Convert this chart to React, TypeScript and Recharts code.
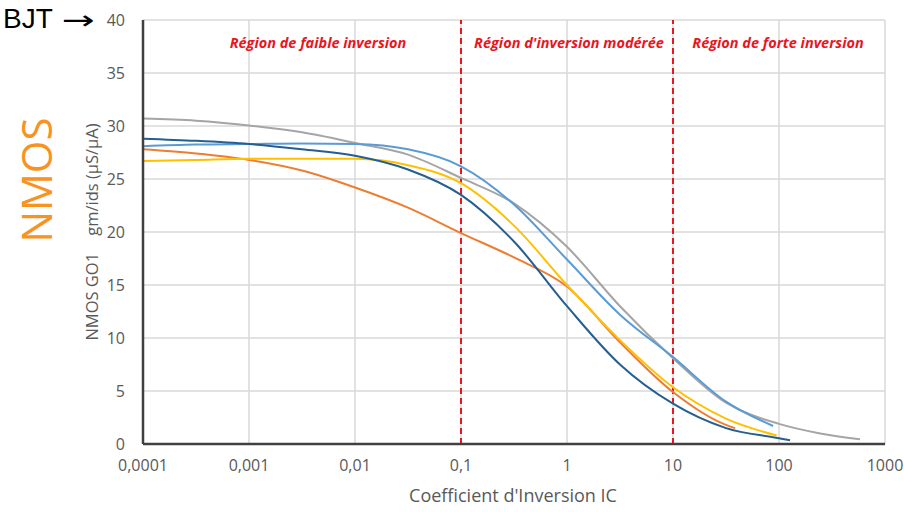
import React from 'react';
import { LineChart, Line, XAxis, YAxis, CartesianGrid, ReferenceLine, ReferenceArea } from 'recharts';

// Tick labels
const xTicks = [0.0001, 0.001, 0.01, 0.1, 1, 10, 100, 1000];
const yTicks = [0, 5, 10, 15, 20, 25, 30, 35, 40];

// Series (Coefficient d'inversion IC -> gm/ids)
const grayX = [0.0001, 0.000316, 0.001, 0.00316, 0.01, 0.0316, 0.1, 0.316, 1, 3.16, 10, 31.6, 100, 245, 580];
const grayY = [30.7, 30.5, 30.05, 29.4, 28.4, 27.3, 25.1, 22.7, 18.6, 13.0, 8.1, 3.9, 1.9, 1.0, 0.45];

const lightBlueX = [0.0001, 0.000316, 0.001, 0.00316, 0.01, 0.0316, 0.1, 0.316, 1, 3.16, 10, 31.6, 88];
const lightBlueY = [28.1, 28.25, 28.3, 28.35, 28.3, 27.8, 26.2, 22.6, 17.4, 12.2, 8.2, 4.0, 1.7];

const darkBlueX = [0.0001, 0.000316, 0.001, 0.00316, 0.01, 0.0316, 0.1, 0.316, 1, 3.16, 10, 31.6, 100, 127];
const darkBlueY = [28.8, 28.6, 28.3, 27.8, 27.2, 25.9, 23.5, 19.1, 13.0, 7.5, 3.8, 1.5, 0.55, 0.35];

const yellowX = [0.0001, 0.000316, 0.001, 0.00316, 0.01, 0.0316, 0.1, 0.316, 1, 3.16, 10, 31.6, 95];
const yellowY = [26.7, 26.8, 26.9, 26.9, 26.9, 26.3, 24.6, 20.6, 15.0, 9.8, 5.35, 2.4, 0.8];

const orangeX = [0.0001, 0.000316, 0.001, 0.00316, 0.01, 0.0316, 0.1, 0.316, 1, 3.16, 10, 31.6, 38.6];
const orangeY = [27.8, 27.4, 26.8, 25.8, 24.2, 22.3, 19.9, 17.6, 14.85, 9.6, 4.9, 1.8, 1.5];

const regionBounds = [0.0001, 0.1, 10, 1000];
const regionLabels = ['Région de faible inversion', "Région d'inversion modérée", 'Région de forte inversion'];
const regionShift = [16, 2, -1];

const build = (xs: number[], ys: number[]) => xs.map((x, i) => ({ x, y: ys[i] }));

const series = [
  { name: 'gray', color: '#a5a5a5', data: build(grayX, grayY) },
  { name: 'lightblue', color: '#5b9bd5', data: build(lightBlueX, lightBlueY) },
  { name: 'orange', color: '#ed7d31', data: build(orangeX, orangeY) },
  { name: 'yellow', color: '#ffc000', data: build(yellowX, yellowY) },
  { name: 'darkblue', color: '#255e91', data: build(darkBlueX, darkBlueY) },
];

const FONT = '"Open Sans", sans-serif';
const RED = '#e8161f';

const fmt = (v: number) => String(v).replace('.', ',');

export default function App() {
  return (
    <div style={{ position: 'absolute', left: 0, top: 0, width: 904, height: 512, background: '#fff', fontFamily: FONT }}>
      <LineChart width={904} height={512} margin={{ top: 20, right: 19, bottom: 38, left: 83 }}>
        <CartesianGrid stroke="#d9d9d9" strokeWidth={1.5} />
        <XAxis
          dataKey="x"
          type="number"
          scale="log"
          domain={[0.0001, 1000]}
          ticks={xTicks}
          allowDataOverflow
          tickFormatter={fmt}
          tickLine={false}
          tickSize={8}
          tickMargin={8}
          height={30}
          axisLine={{ stroke: '#404040', strokeWidth: 2.5 }}
          tick={{ fill: '#595959', fontSize: 16, fontFamily: FONT }}
        />
        <YAxis
          type="number"
          domain={[0, 40]}
          ticks={yTicks}
          width={60}
          tickLine={false}
          tickSize={8}
          tickMargin={10}
          axisLine={{ stroke: '#404040', strokeWidth: 2.5 }}
          tick={{ fill: '#595959', fontSize: 16, fontFamily: FONT }}
        />
        {regionLabels.map((lab, i) => (
          <ReferenceArea
            key={lab}
            x1={regionBounds[i]}
            x2={regionBounds[i + 1]}
            y1={0}
            y2={40}
            fill="none"
            stroke="none"
            label={(p: any) => {
              const vb = p.viewBox || {};
              return (
                <text
                  x={vb.x + vb.width / 2 + regionShift[i]}
                  y={vb.y + 28}
                  textAnchor="middle"
                  fill={RED}
                  fontSize={14.5}
                  fontWeight="bold"
                  fontStyle="italic"
                  fontFamily={FONT}
                >
                  {lab}
                </text>
              );
            }}
          />
        ))}
        <ReferenceLine x={0.1} stroke={RED} strokeWidth={2} strokeDasharray="6 4" />
        <ReferenceLine x={10} stroke={RED} strokeWidth={2} strokeDasharray="6 4" />
        {series.map((s) => (
          <Line
            key={s.name}
            data={s.data}
            dataKey="y"
            type="monotone"
            stroke={s.color}
            strokeWidth={2}
            dot={false}
            isAnimationActive={false}
          />
        ))}
      </LineChart>
      <svg width={904} height={512} style={{ position: 'absolute', left: 0, top: 0, pointerEvents: 'none' }}>
        <text x={3} y={28} fontSize={28} fill="#000" fontFamily='"Liberation Sans", sans-serif'>BJT</text>
        <text x={62} y={29} fontSize={26} fill="#000" fontFamily='"DejaVu Sans", sans-serif' textLength={33} lengthAdjust="spacingAndGlyphs">{'→'}</text>
        <text transform="translate(52,180) rotate(-90)" textAnchor="middle" fontSize={42} fill="#f7931e" fontFamily={FONT}>NMOS</text>
        <text transform="translate(98,232) rotate(-90)" textAnchor="middle" fontSize={16.5} fill="#595959" fontFamily={FONT} style={{ whiteSpace: 'pre' }}>{'NMOS GO1    gm/ids (µS/µA)'}</text>
        <text x={513} y={502} textAnchor="middle" fontSize={18} fill="#595959" fontFamily={FONT}>Coefficient d'Inversion IC</text>
      </svg>
    </div>
  );
}
